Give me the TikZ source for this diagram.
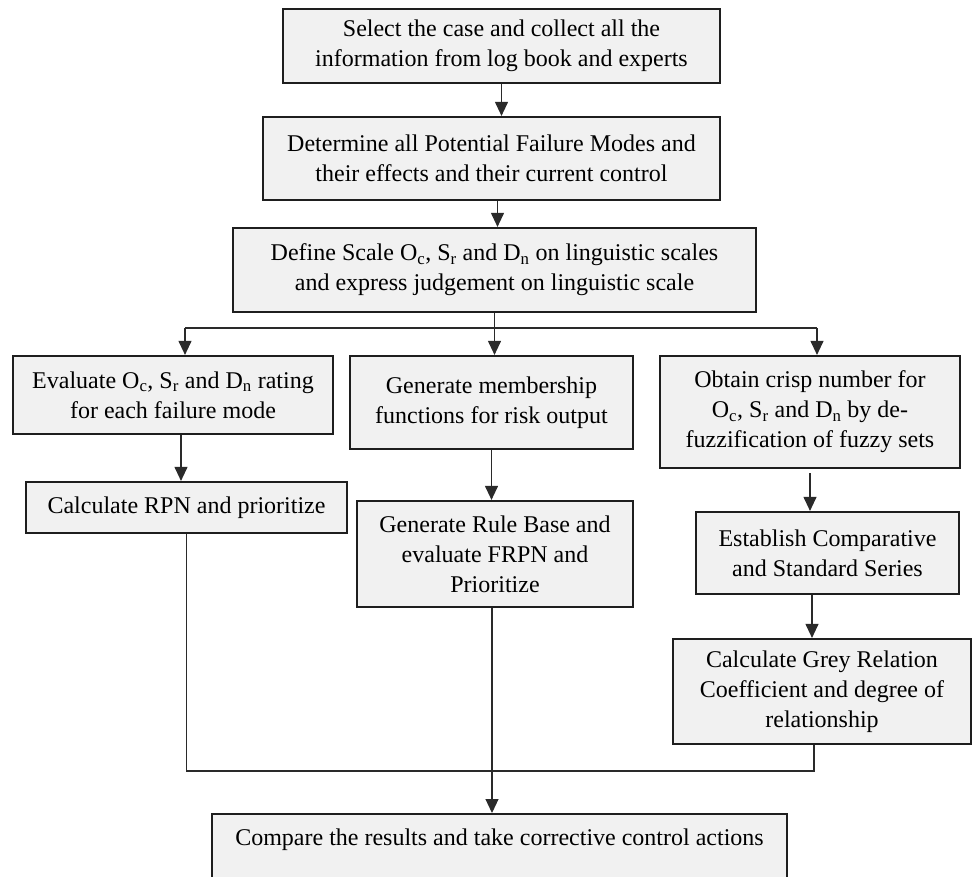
\documentclass[tikz,border=0pt]{standalone}
\usepackage{fontspec}
\setmainfont{Liberation Serif}
\usetikzlibrary{arrows.meta}
\definecolor{boxfill}{HTML}{F1F1F1}
\definecolor{edgec}{HTML}{1E1E1E}
\definecolor{connc}{HTML}{2A2A2A}
\tikzset{
  box/.style={draw=edgec, line width=2.2pt, fill=boxfill, align=center, inner sep=0pt,
    font=\fontsize{24}{30}\selectfont},
  txt/.style={inner sep=0pt, font=\fontsize{24}{30}\selectfont},
  conn/.style={draw=connc, line width=1.1pt},
  arr/.style={conn, -{Triangle[length=14pt,width=13pt]}},
}
\newcommand{\sbs}[1]{\textsubscript{#1}}
\begin{document}
\begin{tikzpicture}[x=1pt,y=-1pt]
\useasboundingbox (0,0) rectangle (974,876);
\clip (0,0) rectangle (974,876);
\node[box, minimum width=437, minimum height=74] (b1) at (501.5,46)
  {Select the case and collect all the\\information from log book and experts};
\node[box, minimum width=457, minimum height=83] (b2) at (491.5,158.5)
  {Determine all Potential Failure Modes and\\their effects and their current control};
\node[box, minimum width=523, minimum height=84] (b3) at (494.5,270)
  {Define Scale O\sbs{c}, S\sbs{r} and D\sbs{n} on linguistic scales\\and express judgement on linguistic scale};
\node[box, minimum width=320, minimum height=78] (b4) at (173,395)
  {Evaluate O\sbs{c}, S\sbs{r} and D\sbs{n} rating\\for each failure mode};
\node[box, minimum width=283, minimum height=93] (b5) at (491.5,402.5)
  {Generate membership\\functions for risk output};
\node[box, minimum width=300, minimum height=112] (b6) at (810,412)
  {Obtain crisp number for\\O\sbs{c}, S\sbs{r} and D\sbs{n} by de-\\fuzzification of fuzzy sets};
\node[box, minimum width=321, minimum height=51] (b7) at (186.5,507.5)
  {Calculate RPN and prioritize};
\node[box, minimum width=276, minimum height=106] (b8) at (495,554)
  {Generate Rule Base and\\evaluate FRPN and\\Prioritize};
\node[box, minimum width=263, minimum height=82] (b9) at (827.5,553)
  {Establish Comparative\\and Standard Series};
\node[box, minimum width=298, minimum height=105] (b10) at (822,691.5)
  {Calculate Grey Relation\\Coefficient and degree of\\relationship};
\node[box, minimum width=575, minimum height=110, anchor=north] (cmp) at (499.5,813) {};
\node[txt, anchor=base] (cmpt) at (499.5,845)
  {Compare the results and take corrective control actions};
% connectors
\draw[arr] (b1.south) -- (b1.south |- b2.north);
\draw[arr] ([xshift=3pt]b3.north |- b2.south) -- ([xshift=3pt]b3.north);
\coordinate (br) at (b3.south |- 0,328);
\coordinate (brL) at (185,328);
\coordinate (brR) at (817,328);
\draw[conn] (b3.south) -- (br);
\draw[conn] (brL) -- (brR);
\draw[arr] (brL) -- (brL |- b4.north);
\draw[arr] (br) -- (br |- b5.north);
\draw[arr] (brR) -- (brR |- b6.north);
\draw[arr] ([xshift=8pt]b4.south) -- ([xshift=8pt]b4.south |- b7.north);
\draw[arr] (b5.south) -- (b5.south |- b8.north);
\draw[arr] ([yshift=-4pt]b6.south) -- (b6.south |- b9.north);
\draw[arr] ([xshift=-15.5pt]b9.south) -- ([xshift=-15.5pt]b9.south |- b10.north);
\coordinate (j) at (492,771);
\draw[conn] (b7.south) |- (j) -| ([xshift=-8pt]b10.south);
\draw[arr] ([xshift=-3pt]b8.south) -- ([xshift=-3pt]b8.south |- cmp.north);
\end{tikzpicture}
\end{document}
